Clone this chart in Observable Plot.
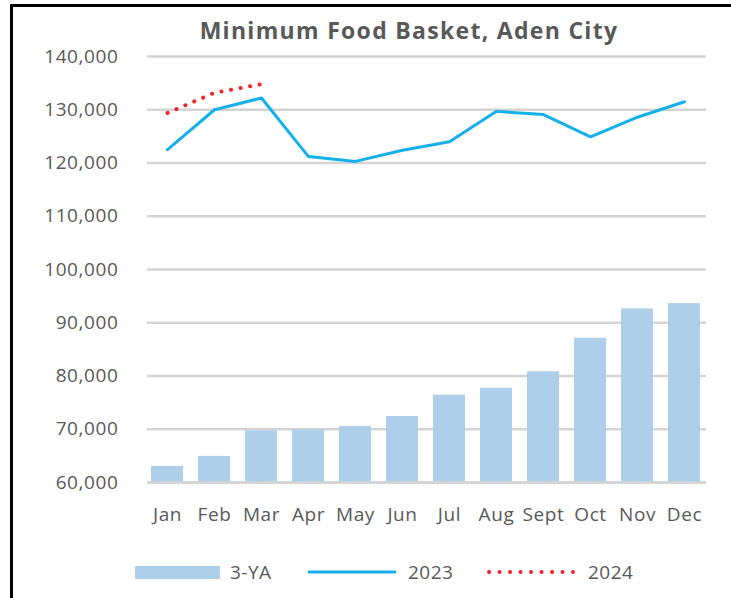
<!DOCTYPE html>
<html>
<head>
<meta charset="utf-8">
<script src="https://cdn.jsdelivr.net/npm/d3@7"></script>
<script src="https://cdn.jsdelivr.net/npm/@observablehq/plot@0.6"></script>
<style>
  html, body { margin: 0; padding: 0; background: #fff; }
  body { width: 731px; height: 598px; position: relative; overflow: hidden; font-family: "Open Sans", sans-serif; color: #595959; }
  #frame { position: absolute; left: 10px; top: 4px; width: 730px; height: 600px; border-left: 3px solid #000; border-top: 3px solid #000; }
  #title { position: absolute; left: 0; width: 818px; top: 14px; text-align: center; font-weight: bold; font-size: 23px; letter-spacing: 1.3px; color: #595959; }
  #chart { position: absolute; left: 0; top: 0; }
  #chart svg text { letter-spacing: 0.6px; }
  .leg { position: absolute; top: 560px; font-size: 19px; letter-spacing: 0.5px; color: #595959; line-height: 24px; }
</style>
</head>
<body>
<div id="frame"></div>
<div id="chart"></div>
<div id="title">Minimum Food Basket, Aden City</div>
<div id="legend"></div>
<script>
const months = ["Jan","Feb","Mar","Apr","May","Jun","Jul","Aug","Sept","Oct","Nov","Dec"];
const threeYA = [63000, 64900, 69700, 69900, 70500, 72400, 76400, 77700, 80800, 87100, 92600, 93600];
const y2023 = [122500, 130000, 132200, 121200, 120300, 122400, 124000, 129700, 129100, 124900, 128600, 131500];
const months2024 = ["Jan","Feb","Mar"];
const y2024 = [129400, 133200, 134800];
const yTicks = [60000, 70000, 80000, 90000, 100000, 110000, 120000, 130000, 140000];
const legendLabels = ["3-YA", "2023", "2024"];

const barData = months.map((m, i) => ({month: m, value: threeYA[i]}));
const line23 = months.map((m, i) => ({month: m, value: y2023[i]}));
const line24 = months2024.map((m, i) => ({month: m, value: y2024[i]}));

const fmt = d3.format(",");
const chart = Plot.plot({
  width: 731,
  height: 530,
  marginLeft: 149,
  marginRight: 29,
  marginTop: 56,
  marginBottom: 48,
  style: {fontFamily: "Open Sans, sans-serif", fontSize: "19px", color: "#595959", background: "transparent"},
  x: {domain: months, paddingInner: 0.31, paddingOuter: 0.0, label: null, tickSize: 0, tickPadding: 25},
  y: {domain: [60000, 140000], ticks: yTicks, tickFormat: fmt, label: null, tickSize: 0, tickPadding: 31},
  marks: [
    Plot.ruleY(yTicks, {stroke: "#d4d4d4", strokeWidth: 2.5, insetLeft: -2, insetRight: -4}),
    Plot.barY(barData, {x: "month", y1: 60000, y2: "value", fill: "#aecfe9", inset: 0}),
    Plot.ruleY([60000], {stroke: "#d4d4d4", strokeWidth: 2.5, insetLeft: -2, insetRight: -4}),
    Plot.lineY(line23, {x: "month", y: "value", stroke: "#15b0ea", strokeWidth: 3, strokeLinejoin: "miter"}),
    Plot.lineY(line24, {x: "month", y: "value", stroke: "#f0262b", strokeWidth: 4, strokeLinecap: "round", strokeDasharray: "0.1 9.6"})
  ]
});
document.getElementById("chart").appendChild(chart);

// Legend
const legend = document.getElementById("legend");
const items = [
  {x: 135, label: legendLabels[0], tx: 230, sw: `<div style="width:85px;height:13px;background:#aecfe9;margin-top:6px"></div>`},
  {x: 308, label: legendLabels[1], tx: 408, sw: `<svg width="88" height="24"><line x1="0" x2="88" y1="12" y2="12" stroke="#15b0ea" stroke-width="3"/></svg>`},
  {x: 487, label: legendLabels[2], tx: 588, sw: `<svg width="88" height="24"><line x1="2" x2="86" y1="12" y2="12" stroke="#f0262b" stroke-width="4" stroke-linecap="round" stroke-dasharray="0.1 10.4"/></svg>`}
];
for (const it of items) {
  const s = document.createElement("div");
  s.className = "leg"; s.style.left = it.x + "px"; s.innerHTML = it.sw;
  legend.appendChild(s);
  const t = document.createElement("div");
  t.className = "leg"; t.style.left = it.tx + "px"; t.textContent = it.label;
  legend.appendChild(t);
}
</script>
</body>
</html>
